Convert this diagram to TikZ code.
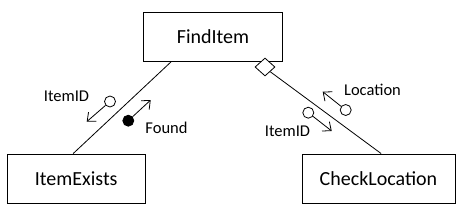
\documentclass[tikz,border=0pt]{standalone}
\usepackage{fontspec}
\setmainfont{Carlito}
\usetikzlibrary{arrows.meta, shapes.geometric}
\newcommand{\bigf}{\fontsize{20}{24}\selectfont}
\newcommand{\smallf}{\fontsize{16.5}{20}\selectfont}
% module box: name, x, y, width, text
\newcommand{\modbox}[5]{%
  \node[draw, line width=0.9pt, fill=white, minimum width=#4, minimum height=49,
    inner sep=0, font=\bigf] (#1) at (#2,#3) {#5};}
% couple: name, x, y, fill, tip x, tip y
\newcommand{\mcouple}[6]{%
  \node[circle, draw, line width=0.8pt, fill=#4, minimum size=11, inner sep=0] (#1) at (#2,#3) {};
  \coordinate (#1tip) at (#5,#6);
  \draw[line width=0.8pt, -{Straight Barb[length=7, width=12]}] (#1) -- (#1tip);}

\begin{document}
\begin{tikzpicture}[x=1pt, y=-1pt]
\useasboundingbox (0,0) rectangle (463,214);
% modules
\modbox{find}{213}{36.5}{138.5}{FindItem}
\modbox{exists}{76.25}{178.5}{138.5}{ItemExists}
\modbox{check}{378.5}{178.5}{153}{CheckLocation}
% connections
\draw[line width=0.8pt] (find.211.4) -- (exists.97.6);
\node[diamond, draw, line width=0.8pt, fill=white, minimum width=20, minimum height=18,
  inner sep=0] (dec) at (265,67) {};
\draw[line width=0.8pt] (dec.south east) -- (check.84);
% couples left
\mcouple{idl}{110}{101.5}{white}{86.7}{121.7}
\mcouple{found}{128.3}{120.7}{black}{150.7}{100}
\node[font=\smallf, inner sep=0] (idltxt) at (66.5,96) {ItemID};
\node[font=\smallf, inner sep=0] (foundtxt) at (166.5,128) {Found};
% couples right
\mcouple{idr}{308.3}{112.7}{white}{331.7}{131}
\mcouple{loc}{345.7}{110}{white}{322.7}{91.7}
\node[font=\smallf, inner sep=0] (idrtxt) at (287.5,131.5) {ItemID};
\node[font=\smallf, inner sep=0] (loctxt) at (372.5,89.5) {Location};
\end{tikzpicture}
\end{document}
